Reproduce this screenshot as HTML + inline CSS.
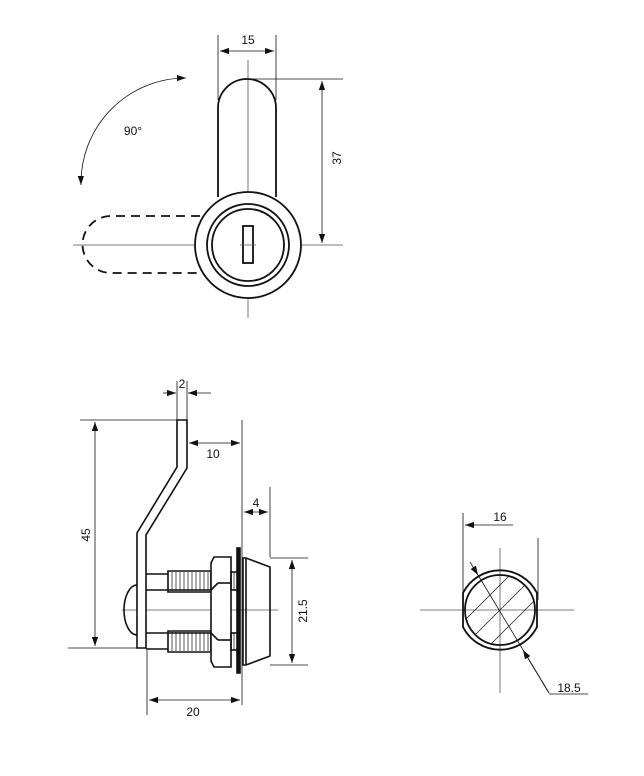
<!DOCTYPE html>
<html><head><meta charset="utf-8"><style>
html,body{margin:0;padding:0;background:#fff}
svg{display:block}
text{font-family:"Liberation Sans Narrow","Liberation Sans",sans-serif;font-size:12px;fill:#111}
</style></head><body>
<svg width="644" height="776" viewBox="0 0 644 776" xmlns="http://www.w3.org/2000/svg">
<defs>
<marker id="a" viewBox="0 0 10 10" refX="10" refY="5" markerWidth="9" markerHeight="9" markerUnits="userSpaceOnUse" orient="auto-start-reverse"><path d="M0,1.5 L10,5 L0,8.5 z" fill="#111"/></marker>
<clipPath id="ic"><circle cx="500" cy="610" r="35"/></clipPath>
</defs>
<g fill="none" stroke="#111">
<!-- TOP VIEW -->
<g stroke-width="0.8" stroke="#555">
<line x1="248" y1="60" x2="248" y2="318"/>
<line x1="73" y1="245" x2="343" y2="245"/>
</g>
<g stroke-width="0.8">
<line x1="218" y1="35" x2="218" y2="100"/>
<line x1="276" y1="35" x2="276" y2="100"/>
<line x1="220" y1="51" x2="274" y2="51" marker-start="url(#a)" marker-end="url(#a)"/>
<line x1="248" y1="79" x2="343" y2="79"/>
<line x1="322" y1="81" x2="322" y2="243" marker-start="url(#a)" marker-end="url(#a)"/>
<path d="M186,78 A105,105 0 0 0 81,185" marker-start="url(#a)" marker-end="url(#a)"/>
</g>
<g stroke-width="1.8">
<path d="M218,197 L218,108 A29,29 0 0 1 276,108 L276,197"/>
<circle cx="248" cy="245" r="53" fill="#fff"/>
<circle cx="248" cy="245" r="41"/>
<circle cx="248" cy="245" r="36"/>
<rect x="243" y="226" width="10" height="37"/>
<path d="M200,216 L111,216 A28.5,28.5 0 0 0 111,273 L200,273" stroke-dasharray="9,6"/>
</g>
<line x1="240" y1="245" x2="256" y2="245" stroke-width="0.8" stroke="#555"/>
<!-- SIDE VIEW -->
<line x1="122" y1="610" x2="278" y2="610" stroke-width="0.8" stroke="#555"/>
<g stroke-width="0.8">
<line x1="80" y1="420" x2="177" y2="420"/>
<line x1="68" y1="648" x2="137" y2="648"/>
<line x1="95" y1="422" x2="95" y2="646" marker-start="url(#a)" marker-end="url(#a)"/>
<line x1="177" y1="381" x2="177" y2="420"/>
<line x1="187" y1="381" x2="187" y2="420"/>
<line x1="163" y1="393" x2="176" y2="393" marker-end="url(#a)"/>
<line x1="211" y1="393" x2="188" y2="393" marker-end="url(#a)"/>
<line x1="242" y1="420" x2="242" y2="705"/>
<line x1="189" y1="443" x2="240" y2="443" marker-start="url(#a)" marker-end="url(#a)"/>
<line x1="270" y1="487" x2="270" y2="557"/>
<line x1="244" y1="512" x2="268" y2="512" marker-start="url(#a)" marker-end="url(#a)"/>
<line x1="270" y1="558" x2="308" y2="558"/>
<line x1="270" y1="665" x2="308" y2="665"/>
<line x1="292" y1="560" x2="292" y2="663" marker-start="url(#a)" marker-end="url(#a)"/>
<line x1="147" y1="650" x2="147" y2="715"/>
<line x1="149" y1="700" x2="240" y2="700" marker-start="url(#a)" marker-end="url(#a)"/>
</g>
<g stroke-width="1.6">
<path d="M177,420 L187,420 L187,468 L146,535 L146,648 L137,648 L137,533 L177,467 Z" fill="#fff"/>
<path d="M137,585 A13,25 0 0 0 137,635"/>
<line x1="146" y1="574" x2="168" y2="574"/>
<line x1="146" y1="590" x2="211" y2="590"/>
<line x1="146" y1="633" x2="211" y2="633"/>
<line x1="146" y1="649" x2="168" y2="649"/>
<path d="M168,571 L211,571 L211,592 L168,592 Z"/>
<path d="M168,631 L211,631 L211,652 L168,652 Z"/>
<path d="M214,557 L231,557 L231,667 L214,667 L211,661 L211,563 Z" fill="#fff"/>
<line x1="218" y1="583" x2="231" y2="583"/>
<line x1="218" y1="640" x2="231" y2="640"/>
<path d="M211,590 L218,583 M211,633 L218,640"/>
<rect x="231" y="572" width="7" height="18"/>
<rect x="231" y="633" width="7" height="17"/>
<rect x="237" y="548" width="3" height="125" fill="#111"/>
<path d="M243,558 L246,558 L270,567 L270,656 L246,665 L243,665 Z"/>
<line x1="246" y1="558" x2="246" y2="665"/>
</g>
<g stroke-width="0.7">
<path d="M172,572v19M176,572v19M180,572v19M184,572v19M188,572v19M192,572v19M196,572v19M200,572v19M204,572v19M208,572v19"/>
<path d="M172,632v19M176,632v19M180,632v19M184,632v19M188,632v19M192,632v19M196,632v19M200,632v19M204,632v19M208,632v19"/>
<path d="M234,572v18M234,633v17"/>
</g>
<!-- RIGHT VIEW -->
<g stroke-width="0.8" stroke="#555">
<line x1="420" y1="610" x2="574" y2="610"/>
<line x1="500" y1="548" x2="500" y2="693"/>
</g>
<g stroke-width="0.8">
<line x1="463" y1="513" x2="463" y2="600"/>
<line x1="538" y1="538" x2="538" y2="600"/>
<line x1="513" y1="525" x2="465" y2="525" marker-end="url(#a)"/>
<g clip-path="url(#ic)" stroke-width="0.7">
<path d="M440,620 L520,540 M440,645 L540,545 M445,665 L545,565 M465,670 L550,585 M485,675 L555,605 M430,610 L505,535 M420,600 L490,530"/>
</g>
<line x1="470" y1="562" x2="478" y2="575" marker-end="url(#a)"/>
<line x1="549" y1="693" x2="478" y2="575"/>
<line x1="549" y1="693" x2="523" y2="650" marker-end="url(#a)"/>
<line x1="549" y1="694" x2="588" y2="694"/>
</g>
<g stroke-width="1.8">
<path d="M463,593 A41.5,41.5 0 0 1 537,593 L537,627 A41.5,41.5 0 0 1 463,627 Z"/>
<circle cx="500" cy="610" r="35"/>
</g>
</g>
<text x="248" y="44" text-anchor="middle">15</text>
<text x="133" y="135" text-anchor="middle">90°</text>
<text transform="translate(341,158) rotate(-90)" text-anchor="middle">37</text>
<text x="182" y="388" text-anchor="middle">2</text>
<text x="213" y="458" text-anchor="middle">10</text>
<text x="256" y="507" text-anchor="middle">4</text>
<text transform="translate(90,535) rotate(-90)" text-anchor="middle">45</text>
<text transform="translate(307,611) rotate(-90)" text-anchor="middle">21.5</text>
<text x="193" y="716" text-anchor="middle">20</text>
<text x="500" y="521" text-anchor="middle">16</text>
<text x="569" y="692" text-anchor="middle">18.5</text>
</svg>
</body></html>
